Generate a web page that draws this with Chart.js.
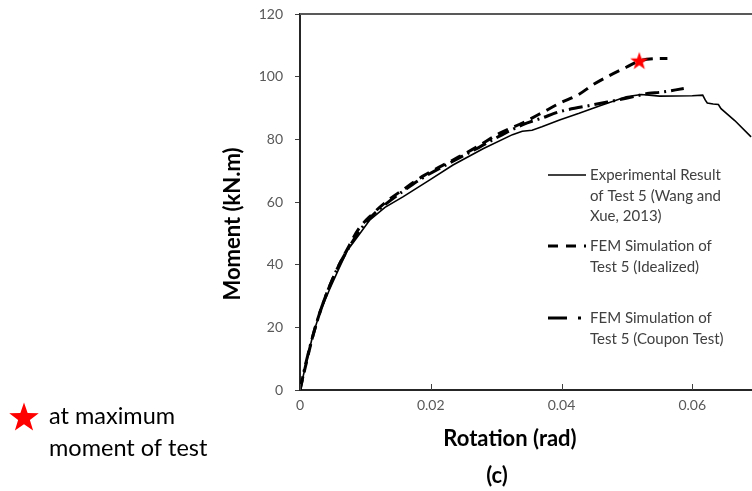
<!DOCTYPE html>
<html>
<head>
<meta charset="utf-8">
<script src="https://cdn.jsdelivr.net/npm/chart.js@4.4.1/dist/chart.umd.min.js"></script>
<style>
html,body{margin:0;padding:0;overflow:hidden;background:#fff;width:752px;height:491px;}
#wrap{position:absolute;left:0;top:0;width:840px;height:491px;}
</style>
</head>
<body>
<div id="wrap"><canvas id="c" width="840" height="491"></canvas></div>
<script>
// ---- data ----
const expRotation = [0,0.0005,0.001,0.0019,0.003,0.0045,0.006,0.0073,0.009,0.0107,0.013,0.0158,0.0198,0.0234,0.028,0.0325,0.034,0.0355,0.037,0.0397,0.0427,0.046,0.0499,0.0522,0.055,0.06,0.0616,0.062,0.0623,0.0632,0.064,0.0644,0.0665,0.069];
const expMoment   = [0,4.5,9,17,24.5,32,39,44.7,49.5,54.3,58.3,61.7,67,71.8,77,81.5,82.6,82.9,84,86.2,88.3,90.8,93.6,94.3,93.8,93.9,94.1,92.5,91.6,91.3,91.1,89.8,86,80.8];

const idealRotation = [0,0.001,0.002,0.003,0.0045,0.006,0.0075,0.009,0.011,0.0132,0.0158,0.019,0.0234,0.027,0.0305,0.0341,0.0372,0.0397,0.0427,0.0448,0.0473,0.0499,0.0519,0.054,0.0562];
const idealMoment   = [0,9,17.5,24.5,33,40,46,51.5,56,60.1,64,68.5,73.4,77.5,81.9,85.3,88.7,91.5,94.4,97.4,100.3,103,105,105.7,105.8];

const couponRotation = [0,0.001,0.002,0.003,0.0045,0.006,0.0075,0.009,0.011,0.0132,0.0158,0.019,0.0234,0.027,0.0305,0.0341,0.037,0.0397,0.0448,0.0499,0.0534,0.055,0.0587];
const couponMoment   = [0,9.5,17.5,24.5,33,40,45.5,50.5,55.5,59.5,63.5,68,73,77,81,84.7,86.8,88.8,91,93.1,94.7,95,96.2];

const maxRotation = [0.0519];
const maxMoment   = [105.1];

const xTicks = [0,0.02,0.04,0.06,0.08];
const xTickLabels = ['0','0.02','0.04','0.06','0.08'];
const yTicks = [0,20,40,60,80,100,120];

const seriesNames = [
  ['Experimental Result','of Test 5 (Wang and','Xue, 2013)'],
  ['FEM Simulation of','Test 5 (Idealized)'],
  ['FEM Simulation of','Test 5 (Coupon Test)']
];
const xTitle = 'Rotation (rad)';
const yTitle = 'Moment (kN.m)';
const panelLabel = '(c)';
const starNote = ['at maximum','moment of test'];

// ---- helpers ----
const toPts = (xs, ys) => xs.map((x,i)=>({x:x, y:ys[i]}));
function starPath(ctx, cx, cy, R, r){
  ctx.beginPath();
  for(let i=0;i<10;i++){
    const a = -Math.PI/2 + i*Math.PI/5;
    const rad = (i%2===0)?R:r;
    const px = cx + rad*Math.cos(a), py = cy + rad*Math.sin(a);
    if(i===0) ctx.moveTo(px,py); else ctx.lineTo(px,py);
  }
  ctx.closePath();
}
const starImg = document.createElement('canvas');
starImg.width = 20; starImg.height = 20;
(function(){const g=starImg.getContext('2d'); g.fillStyle='#ff0000'; starPath(g,10,10.8,9.5,3.8); g.fill();})();

Chart.defaults.font.family = 'Lato, "Open Sans", sans-serif';
Chart.defaults.color = '#595959';

const DASH = [11,7];
const DASHDOT = [14,5,2,5];

const decor = {
  id:'decor',
  afterDraw(chart){
    const ctx = chart.ctx, a = chart.chartArea;
    const xs = chart.scales.x;
    ctx.save();
    // top frame line
    ctx.strokeStyle = '#595959'; ctx.lineWidth = 2;
    ctx.beginPath(); ctx.moveTo(a.left, a.top); ctx.lineTo(a.right, a.top); ctx.stroke();
    ctx.strokeStyle = '#262626';
    ctx.beginPath(); ctx.moveTo(a.right, a.top); ctx.lineTo(a.right, a.bottom); ctx.stroke();
    // x ticks (inside)
    ctx.strokeStyle = '#404040'; ctx.lineWidth = 1;
    xTicks.forEach(v=>{
      const px = Math.round(xs.getPixelForValue(v))+0.5;
      ctx.beginPath(); ctx.moveTo(px, a.bottom); ctx.lineTo(px, a.bottom-6); ctx.stroke();
    });
    // axis titles
    ctx.fillStyle = '#000';
    ctx.font = 'bold 22px Lato, "Open Sans", sans-serif';
    ctx.textAlign = 'center'; ctx.textBaseline = 'middle';
    ctx.fillText(xTitle, 510, 439);
    ctx.fillText(panelLabel, 497, 476);
    ctx.save();
    ctx.translate(233, 224); ctx.rotate(-Math.PI/2);
    ctx.fillText(yTitle, 0, 0);
    ctx.restore();
    // legend
    ctx.font = '15px Lato, "Open Sans", sans-serif';
    ctx.textAlign = 'left'; ctx.fillStyle = '#404040';
    const blocks = [
      {y:175, dash:[], w:1.6},
      {y:246, dash:[10,8], w:3},
      {y:318, dash:[19,11,3,20], w:3}
    ];
    blocks.forEach((b,i)=>{
      ctx.strokeStyle = '#000'; ctx.lineWidth = b.w; ctx.setLineDash(b.dash);
      ctx.beginPath(); ctx.moveTo(548, b.y); ctx.lineTo(586, b.y); ctx.stroke();
      ctx.setLineDash([]);
      seriesNames[i].forEach((t,j)=>ctx.fillText(t, 590, b.y + j*20.8));
    });
    // star note
    ctx.fillStyle = '#ff0000';
    starPath(ctx, 24, 418, 15.5, 6.2); ctx.fill();
    ctx.fillStyle = '#000';
    ctx.font = '23.5px Lato, "Open Sans", sans-serif';
    ctx.fillText(starNote[0], 49, 416);
    ctx.fillText(starNote[1], 49, 448);
    ctx.restore();
  }
};

new Chart(document.getElementById('c'), {
  type:'scatter',
  data:{
    datasets:[
      {label:'Experimental', data:toPts(expRotation, expMoment), showLine:true, borderColor:'#000', borderWidth:1.6, pointRadius:0, tension:0, order:3},
      {label:'Idealized', data:toPts(idealRotation, idealMoment), showLine:true, borderColor:'#000', borderWidth:3, borderDash:DASH, pointRadius:0, cubicInterpolationMode:'monotone', order:2},
      {label:'Coupon', data:toPts(couponRotation, couponMoment), showLine:true, borderColor:'#000', borderWidth:3, borderDash:DASHDOT, pointRadius:0, cubicInterpolationMode:'monotone', order:1},
      {label:'Max', data:toPts(maxRotation, maxMoment), showLine:false, pointStyle:starImg, pointRadius:10, order:0}
    ]
  },
  options:{
    responsive:false, animation:false,
    layout:{padding:{left:0, top:14, right:17, bottom:0}},
    plugins:{legend:{display:false}, tooltip:{enabled:false}},
    scales:{
      x:{
        type:'linear', min:0, max:0.08,
        afterBuildTicks(s){ s.ticks = xTicks.map(v=>({value:v})); },
        afterFit(s){ s.height = 101; s.paddingRight = 0; s.paddingLeft = 0; },
        grid:{drawOnChartArea:false, drawTicks:false},
        border:{color:'#262626', width:2},
        ticks:{padding:7, color:'#595959', font:{size:14}, callback:(v)=>{const i=xTicks.indexOf(v); return i>=0?xTickLabels[i]:'';}}
      },
      y:{
        min:0, max:120,
        afterBuildTicks(s){ s.ticks = yTicks.map(v=>({value:v})); },
        afterFit(s){ s.width = 300; s.paddingTop = 0; s.paddingBottom = 0; },
        grid:{drawOnChartArea:false, drawTicks:true, tickLength:5, tickColor:'#404040', lineWidth:1},
        border:{color:'#262626', width:2},
        ticks:{padding:12, color:'#595959', font:{size:14}}
      }
    }
  },
  plugins:[decor]
});
</script>
</body>
</html>
